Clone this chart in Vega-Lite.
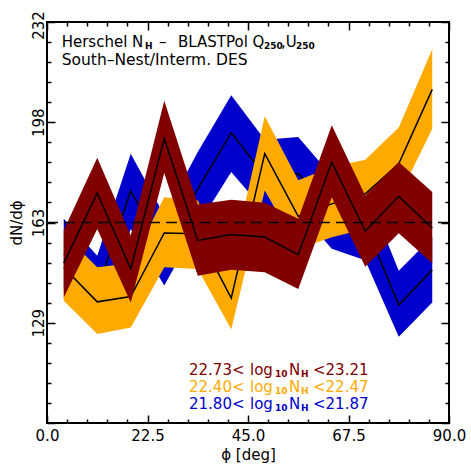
{
  "$schema": "https://vega.github.io/schema/vega-lite/v6.json",
  "width": 402,
  "height": 401,
  "autosize": "none",
  "padding": {"left": 47, "top": 22, "right": 22, "bottom": 48},
  "background": "white",
  "data": {"values": [{}]},
  "config": {
    "view": {"stroke": "black", "strokeWidth": 2},
    "font": "DejaVu Sans",
    "axis": {"labelFont": "DejaVu Sans", "titleFont": "DejaVu Sans", "domain": false, "grid": false, "ticks": true, "tickColor": "black", "tickWidth": 1.5, "zindex": 1}
  },
  "datasets": {
    "counts": [
      {"group": "21.80-21.87", "phi": 3.75, "lo": 140.1, "mid": 152.2, "hi": 164.3},
      {"group": "21.80-21.87", "phi": 11.25, "lo": 128.0, "mid": 139.8, "hi": 151.6},
      {"group": "21.80-21.87", "phi": 18.75, "lo": 160.8, "mid": 173.8, "hi": 186.7},
      {"group": "21.80-21.87", "phi": 26.25, "lo": 141.3, "mid": 153.4, "hi": 165.5},
      {"group": "21.80-21.87", "phi": 33.75, "lo": 162.0, "mid": 174.6, "hi": 187.3},
      {"group": "21.80-21.87", "phi": 41.25, "lo": 180.4, "mid": 193.9, "hi": 206.8},
      {"group": "21.80-21.87", "phi": 48.75, "lo": 167.0, "mid": 179.2, "hi": 191.5},
      {"group": "21.80-21.87", "phi": 56.25, "lo": 167.1, "mid": 179.8, "hi": 192.4},
      {"group": "21.80-21.87", "phi": 63.75, "lo": 154.0, "mid": 166.5, "hi": 179.0},
      {"group": "21.80-21.87", "phi": 71.25, "lo": 150.0, "mid": 162.5, "hi": 175.0},
      {"group": "21.80-21.87", "phi": 78.75, "lo": 123.7, "mid": 134.6, "hi": 146.4},
      {"group": "21.80-21.87", "phi": 86.25, "lo": 135.5, "mid": 146.7, "hi": 158.0},

      {"group": "22.40-22.47", "phi": 3.75, "lo": 136.1, "mid": 147.5, "hi": 159.0},
      {"group": "22.40-22.47", "phi": 11.25, "lo": 124.6, "mid": 135.7, "hi": 147.6},
      {"group": "22.40-22.47", "phi": 18.75, "lo": 126.9, "mid": 137.5, "hi": 149.0},
      {"group": "22.40-22.47", "phi": 26.25, "lo": 147.6, "mid": 159.4, "hi": 171.7},
      {"group": "22.40-22.47", "phi": 33.75, "lo": 147.0, "mid": 159.1, "hi": 170.6},
      {"group": "22.40-22.47", "phi": 41.25, "lo": 126.3, "mid": 137.0, "hi": 148.2},
      {"group": "22.40-22.47", "phi": 48.75, "lo": 174.0, "mid": 186.7, "hi": 199.6},
      {"group": "22.40-22.47", "phi": 56.25, "lo": 153.9, "mid": 165.1, "hi": 177.5},
      {"group": "22.40-22.47", "phi": 63.75, "lo": 157.9, "mid": 169.4, "hi": 182.1},
      {"group": "22.40-22.47", "phi": 71.25, "lo": 160.8, "mid": 172.9, "hi": 184.6},
      {"group": "22.40-22.47", "phi": 78.75, "lo": 171.7, "mid": 183.2, "hi": 195.7},
      {"group": "22.40-22.47", "phi": 86.25, "lo": 195.3, "mid": 208.8, "hi": 222.6},

      {"group": "22.73-23.21", "phi": 3.75, "lo": 137.2, "mid": 149.0, "hi": 160.3},
      {"group": "22.73-23.21", "phi": 11.25, "lo": 160.8, "mid": 173.1, "hi": 185.3},
      {"group": "22.73-23.21", "phi": 18.75, "lo": 135.5, "mid": 147.0, "hi": 158.5},
      {"group": "22.73-23.21", "phi": 26.25, "lo": 180.0, "mid": 191.9, "hi": 204.9},
      {"group": "22.73-23.21", "phi": 33.75, "lo": 144.7, "mid": 156.8, "hi": 169.2},
      {"group": "22.73-23.21", "phi": 41.25, "lo": 146.7, "mid": 158.9, "hi": 170.8},
      {"group": "22.73-23.21", "phi": 48.75, "lo": 145.9, "mid": 158.0, "hi": 169.8},
      {"group": "22.73-23.21", "phi": 56.25, "lo": 140.1, "mid": 151.9, "hi": 164.3},
      {"group": "22.73-23.21", "phi": 63.75, "lo": 171.7, "mid": 183.8, "hi": 196.5},
      {"group": "22.73-23.21", "phi": 71.25, "lo": 147.8, "mid": 160.0, "hi": 172.3},
      {"group": "22.73-23.21", "phi": 78.75, "lo": 159.3, "mid": 172.0, "hi": 183.8},
      {"group": "22.73-23.21", "phi": 86.25, "lo": 149.0, "mid": 161.1, "hi": 173.5}
    ]
  },
  "layer": [
    {
      "data": {"name": "counts"},
      "transform": [{"filter": "datum.group == '21.80-21.87'"}],
      "mark": {"type": "area", "color": "#0000CD"},
      "encoding": {
        "x": {
          "field": "phi", "type": "quantitative",
          "scale": {"domain": [0, 90], "nice": false, "zero": false},
          "axis": {
            "orient": "bottom",
            "values": [0, 22.5, 45, 67.5, 90],
            "offset": -8, "tickSize": 8,
            "format": ".1f",
            "labelFontSize": 15, "labelColor": "black", "labelPadding": 5,
            "labelFlush": false, "labelOverlap": false,
            "title": "ϕ [deg]", "titleFontSize": 15, "titleFontWeight": "normal",
            "titleColor": "black", "titlePadding": 4
          }
        },
        "y": {
          "field": "lo", "type": "quantitative",
          "scale": {"domain": [94, 232], "nice": false, "zero": false},
          "axis": {
            "orient": "left",
            "values": [94, 128.5, 163, 197.5, 232],
            "offset": -8, "tickSize": 8,
            "labelExpr": "datum.value > 100 ? format(round(datum.value), 'd') : ''",
            "labelAngle": 270, "labelAlign": "center", "labelBaseline": "bottom",
            "labelFontSize": 15, "labelColor": "black", "labelPadding": 1,
            "labelOffset": {"condition": {"test": "datum.value > 230", "value": 3}, "value": 0},
            "labelFlush": false, "labelOverlap": false,
            "title": "dN/dϕ", "titleFontSize": 15, "titleFontWeight": "normal",
            "titleColor": "black", "titlePadding": 7
          }
        },
        "y2": {"field": "hi"}
      }
    },
    {
      "data": {"name": "counts"},
      "transform": [{"filter": "datum.group == '21.80-21.87'"}],
      "mark": {"type": "line", "color": "black", "strokeWidth": 1.5},
      "encoding": {
        "x": {
          "field": "phi", "type": "quantitative",
          "axis": {"orient": "bottom", "values": [4.5, 9, 13.5, 18, 27, 31.5, 36, 40.5, 49.5, 54, 58.5, 63, 72, 76.5, 81, 85.5], "offset": -4, "tickSize": 4, "labels": false, "title": null}
        },
        "y": {
          "field": "mid", "type": "quantitative",
          "axis": {"orient": "left", "values": [100.9, 107.8, 114.7, 121.6, 135.4, 142.3, 149.2, 156.1, 169.9, 176.8, 183.7, 190.6, 204.4, 211.3, 218.2, 225.1], "offset": -4, "tickSize": 4, "labels": false, "title": null}
        }
      }
    },
    {
      "data": {"name": "counts"},
      "transform": [{"filter": "datum.group == '22.40-22.47'"}],
      "mark": {"type": "area", "color": "#FFAA00"},
      "encoding": {
        "x": {
          "field": "phi", "type": "quantitative",
          "axis": {"orient": "top", "values": [0, 22.5, 45, 67.5, 90], "offset": -8, "tickSize": 8, "labels": false, "title": null}
        },
        "y": {
          "field": "lo", "type": "quantitative",
          "axis": {"orient": "right", "values": [94, 128.5, 163, 197.5, 232], "offset": -8, "tickSize": 8, "labels": false, "title": null}
        },
        "y2": {"field": "hi"}
      }
    },
    {
      "data": {"name": "counts"},
      "transform": [{"filter": "datum.group == '22.40-22.47'"}],
      "mark": {"type": "line", "color": "black", "strokeWidth": 1.5},
      "encoding": {
        "x": {
          "field": "phi", "type": "quantitative",
          "axis": {"orient": "top", "values": [4.5, 9, 13.5, 18, 27, 31.5, 36, 40.5, 49.5, 54, 58.5, 63, 72, 76.5, 81, 85.5], "offset": -4, "tickSize": 4, "labels": false, "title": null}
        },
        "y": {
          "field": "mid", "type": "quantitative",
          "axis": {"orient": "right", "values": [100.9, 107.8, 114.7, 121.6, 135.4, 142.3, 149.2, 156.1, 169.9, 176.8, 183.7, 190.6, 204.4, 211.3, 218.2, 225.1], "offset": -4, "tickSize": 4, "labels": false, "title": null}
        }
      }
    },
    {
      "data": {"name": "counts"},
      "transform": [{"filter": "datum.group == '22.73-23.21'"}],
      "mark": {"type": "area", "color": "#800000"},
      "encoding": {
        "x": {"field": "phi", "type": "quantitative", "axis": null},
        "y": {"field": "lo", "type": "quantitative", "axis": null},
        "y2": {"field": "hi"}
      }
    },
    {
      "data": {"name": "counts"},
      "transform": [{"filter": "datum.group == '22.73-23.21'"}],
      "mark": {"type": "line", "color": "black", "strokeWidth": 1.5},
      "encoding": {
        "x": {"field": "phi", "type": "quantitative", "axis": null},
        "y": {"field": "mid", "type": "quantitative", "axis": null}
      }
    },
    {
      "mark": {"type": "rule", "color": "black", "strokeWidth": 1.5, "strokeDash": [11, 6]},
      "encoding": {"y": {"datum": 163, "axis": null}}
    },

    {"mark": {"type": "text", "text": "Herschel N", "align": "left", "baseline": "alphabetic", "fontSize": 15, "color": "black"},
     "encoding": {"x": {"datum": 3.29, "axis": null}, "y": {"datum": 223.5, "axis": null}}},
    {"mark": {"type": "text", "text": "H", "align": "left", "baseline": "alphabetic", "fontSize": 9, "fontWeight": "bold", "color": "black"},
     "encoding": {"x": {"datum": 21.94, "axis": null}, "y": {"datum": 222.7, "axis": null}}},
    {"mark": {"type": "text", "text": "–", "align": "left", "baseline": "alphabetic", "fontSize": 15, "color": "black"},
     "encoding": {"x": {"datum": 25.07, "axis": null}, "y": {"datum": 223.5, "axis": null}}},
    {"mark": {"type": "text", "text": "BLASTPol Q", "align": "left", "baseline": "alphabetic", "fontSize": 15, "color": "black"},
     "encoding": {"x": {"datum": 29.33, "axis": null}, "y": {"datum": 223.5, "axis": null}}},
    {"mark": {"type": "text", "text": "250", "align": "left", "baseline": "alphabetic", "fontSize": 9, "fontWeight": "bold", "color": "black"},
     "encoding": {"x": {"datum": 48.58, "axis": null}, "y": {"datum": 222.7, "axis": null}}},
    {"mark": {"type": "text", "text": ",U", "align": "left", "baseline": "alphabetic", "fontSize": 15, "color": "black"},
     "encoding": {"x": {"datum": 52.39, "axis": null}, "y": {"datum": 223.5, "axis": null}}},
    {"mark": {"type": "text", "text": "250", "align": "left", "baseline": "alphabetic", "fontSize": 9, "fontWeight": "bold", "color": "black"},
     "encoding": {"x": {"datum": 55.75, "axis": null}, "y": {"datum": 222.7, "axis": null}}},
    {"mark": {"type": "text", "text": "South–Nest/Interm. DES", "align": "left", "baseline": "alphabetic", "fontSize": 15.5, "color": "black"},
     "encoding": {"x": {"datum": 3.29, "axis": null}, "y": {"datum": 217.2, "axis": null}}},

    {"mark": {"type": "text", "text": "22.73<", "align": "left", "baseline": "alphabetic", "fontSize": 15, "color": "#800000"},
     "encoding": {"x": {"datum": 31.79, "axis": null}, "y": {"datum": 110.5, "axis": null}}},
    {"mark": {"type": "text", "text": "log", "align": "left", "baseline": "alphabetic", "fontSize": 15, "color": "#800000"},
     "encoding": {"x": {"datum": 45.45, "axis": null}, "y": {"datum": 110.5, "axis": null}}},
    {"mark": {"type": "text", "text": "10", "align": "left", "baseline": "alphabetic", "fontSize": 9, "fontWeight": "bold", "color": "#800000"},
     "encoding": {"x": {"datum": 51.04, "axis": null}, "y": {"datum": 109.8, "axis": null}}},
    {"mark": {"type": "text", "text": "N", "align": "left", "baseline": "alphabetic", "fontSize": 15, "color": "#800000"},
     "encoding": {"x": {"datum": 54.18, "axis": null}, "y": {"datum": 110.5, "axis": null}}},
    {"mark": {"type": "text", "text": "H", "align": "left", "baseline": "alphabetic", "fontSize": 9, "fontWeight": "bold", "color": "#800000"},
     "encoding": {"x": {"datum": 56.87, "axis": null}, "y": {"datum": 109.8, "axis": null}}},
    {"mark": {"type": "text", "text": "<23.21", "align": "left", "baseline": "alphabetic", "fontSize": 15, "color": "#800000"},
     "encoding": {"x": {"datum": 59.55, "axis": null}, "y": {"datum": 110.5, "axis": null}}},

    {"mark": {"type": "text", "text": "22.40<", "align": "left", "baseline": "alphabetic", "fontSize": 15, "color": "#FFAA00"},
     "encoding": {"x": {"datum": 31.79, "axis": null}, "y": {"datum": 104.7, "axis": null}}},
    {"mark": {"type": "text", "text": "log", "align": "left", "baseline": "alphabetic", "fontSize": 15, "color": "#FFAA00"},
     "encoding": {"x": {"datum": 45.45, "axis": null}, "y": {"datum": 104.7, "axis": null}}},
    {"mark": {"type": "text", "text": "10", "align": "left", "baseline": "alphabetic", "fontSize": 9, "fontWeight": "bold", "color": "#FFAA00"},
     "encoding": {"x": {"datum": 51.04, "axis": null}, "y": {"datum": 104.0, "axis": null}}},
    {"mark": {"type": "text", "text": "N", "align": "left", "baseline": "alphabetic", "fontSize": 15, "color": "#FFAA00"},
     "encoding": {"x": {"datum": 54.18, "axis": null}, "y": {"datum": 104.7, "axis": null}}},
    {"mark": {"type": "text", "text": "H", "align": "left", "baseline": "alphabetic", "fontSize": 9, "fontWeight": "bold", "color": "#FFAA00"},
     "encoding": {"x": {"datum": 56.87, "axis": null}, "y": {"datum": 104.0, "axis": null}}},
    {"mark": {"type": "text", "text": "<22.47", "align": "left", "baseline": "alphabetic", "fontSize": 15, "color": "#FFAA00"},
     "encoding": {"x": {"datum": 59.55, "axis": null}, "y": {"datum": 104.7, "axis": null}}},

    {"mark": {"type": "text", "text": "21.80<", "align": "left", "baseline": "alphabetic", "fontSize": 15, "color": "#0000CD"},
     "encoding": {"x": {"datum": 31.79, "axis": null}, "y": {"datum": 98.8, "axis": null}}},
    {"mark": {"type": "text", "text": "log", "align": "left", "baseline": "alphabetic", "fontSize": 15, "color": "#0000CD"},
     "encoding": {"x": {"datum": 45.45, "axis": null}, "y": {"datum": 98.8, "axis": null}}},
    {"mark": {"type": "text", "text": "10", "align": "left", "baseline": "alphabetic", "fontSize": 9, "fontWeight": "bold", "color": "#0000CD"},
     "encoding": {"x": {"datum": 51.04, "axis": null}, "y": {"datum": 98.1, "axis": null}}},
    {"mark": {"type": "text", "text": "N", "align": "left", "baseline": "alphabetic", "fontSize": 15, "color": "#0000CD"},
     "encoding": {"x": {"datum": 54.18, "axis": null}, "y": {"datum": 98.8, "axis": null}}},
    {"mark": {"type": "text", "text": "H", "align": "left", "baseline": "alphabetic", "fontSize": 9, "fontWeight": "bold", "color": "#0000CD"},
     "encoding": {"x": {"datum": 56.87, "axis": null}, "y": {"datum": 98.1, "axis": null}}},
    {"mark": {"type": "text", "text": "<21.87", "align": "left", "baseline": "alphabetic", "fontSize": 15, "color": "#0000CD"},
     "encoding": {"x": {"datum": 59.55, "axis": null}, "y": {"datum": 98.8, "axis": null}}}
  ],
  "resolve": {"axis": {"x": "independent", "y": "independent"}}
}
